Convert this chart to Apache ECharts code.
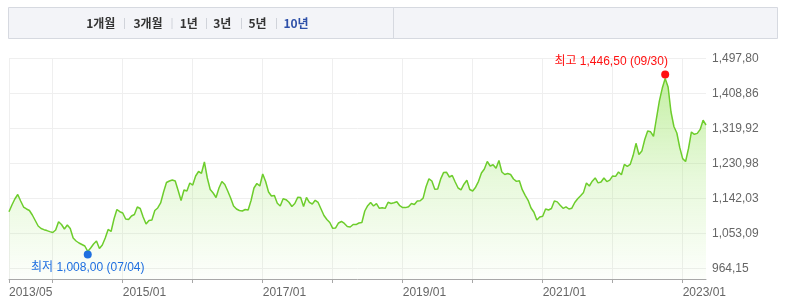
<!DOCTYPE html>
<html><head><meta charset="utf-8">
<script src="https://cdn.jsdelivr.net/npm/echarts@6.0.0/dist/echarts.min.js"></script>
<style>html,body{margin:0;padding:0;background:#fff}#c{width:786px;height:306px}</style>
</head><body><div id="c"></div>
<script>
// ---------- data ----------
const tabs = ['1개월', '3개월', '1년', '3년', '5년', '10년'];
const activeTab = '10년';
const yTickLabels = ['964,15', '1,053,09', '1,142,03', '1,230,98', '1,319,92', '1,408,86', '1,497,80'];
const yTickMin = 964.15;
const yTickMax = 1497.80;
const yAxisFloor = 938.0;
const highPoint = { date: '2022/10/01', value: 1446.50, label: '최고 1,446,50 (09/30)' };
const lowPoint = { date: '2014/07/01', value: 1008.00, label: '최저 1,008,00 (07/04)' };
// semi-monthly closing values, 2013/05/16 .. 2023/05/01
const values = [
  1108.7, 1125.7, 1140.9, 1152.3, 1135.9, 1120.6, 1115.6, 1111.8, 1100.3, 1086.4,
  1072.4, 1066.1, 1063.1, 1060.8, 1058.2, 1056.0, 1062.3, 1083.4, 1076.3, 1064.8,
  1075.0, 1066.1, 1042.0, 1034.4, 1029.3, 1025.5, 1021.7, 1008.0, 1016.6, 1026.8,
  1034.4, 1015.4, 1024.3, 1042.0, 1063.6, 1058.5, 1090.2, 1114.3, 1108.7, 1105.4,
  1090.2, 1088.9, 1097.8, 1101.6, 1120.6, 1116.8, 1095.3, 1077.5, 1086.4, 1087.7,
  1111.8, 1118.1, 1130.8, 1158.7, 1182.8, 1186.6, 1189.1, 1186.6, 1162.5, 1137.1,
  1163.8, 1161.2, 1181.5, 1176.4, 1199.3, 1210.7, 1206.1, 1234.8, 1194.2, 1165.0,
  1156.1, 1144.7, 1168.8, 1185.3, 1177.7, 1161.2, 1143.5, 1123.2, 1115.6, 1111.8,
  1110.5, 1114.3, 1113.0, 1137.1, 1168.8, 1180.2, 1173.9, 1204.3, 1185.3, 1158.7,
  1148.5, 1149.8, 1130.0, 1123.2, 1141.7, 1139.2, 1132.6, 1121.9, 1129.5, 1145.2,
  1144.7, 1121.9, 1144.7, 1132.6, 1128.2, 1137.6, 1132.1, 1115.6, 1099.1, 1088.9,
  1081.3, 1066.6, 1067.4, 1080.1, 1083.9, 1078.8, 1071.2, 1069.9, 1076.3, 1076.0,
  1080.1, 1081.3, 1110.5, 1123.9, 1132.1, 1123.2, 1129.0, 1117.3, 1118.9, 1117.1,
  1132.6, 1129.5, 1131.3, 1133.8, 1123.9, 1119.1, 1119.1, 1121.4, 1129.3, 1127.0,
  1135.9, 1136.6, 1143.0, 1172.1, 1192.2, 1186.6, 1165.5, 1166.3, 1191.2, 1207.9,
  1208.9, 1196.7, 1200.5, 1184.1, 1168.8, 1164.3, 1178.5, 1188.4, 1165.0, 1161.2,
  1170.9, 1185.8, 1206.9, 1217.0, 1236.0, 1224.6, 1227.9, 1218.8, 1238.6, 1209.4,
  1203.1, 1205.4, 1203.1, 1191.7, 1185.6, 1187.3, 1164.5, 1150.3, 1137.6, 1118.1,
  1107.2, 1087.7, 1095.3, 1097.3, 1115.6, 1113.0, 1116.8, 1135.9, 1133.6, 1125.0,
  1117.3, 1121.1, 1115.6, 1117.6, 1132.1, 1141.7, 1149.3, 1157.7, 1181.5, 1173.9,
  1186.1, 1194.4, 1181.8, 1184.1, 1194.2, 1185.1, 1188.9, 1199.5, 1198.3, 1209.4,
  1202.6, 1228.7, 1223.4, 1228.7, 1251.0, 1282.2, 1253.8, 1262.4, 1291.8, 1313.4,
  1311.4, 1300.0, 1345.1, 1389.0, 1421.7, 1446.5, 1425.0, 1361.6, 1324.8, 1308.3,
  1271.6, 1243.4, 1236.0, 1269.0, 1310.9, 1305.0, 1307.3, 1317.4, 1340.8, 1328.6
];
// category dates (1st and 16th of each month)
const dates = ['2013/05/16'];
for (let y = 2013, m = 6; dates.length < values.length; ) {
  const mm = String(m).padStart(2, '0');
  dates.push(y + '/' + mm + '/01');
  if (dates.length < values.length) dates.push(y + '/' + mm + '/16');
  m++; if (m > 12) { m = 1; y++; }
}
const labelYears = ['2015', '2017', '2019', '2021', '2023'];

// ---------- chart ----------
const FONT = "'Liberation Sans', 'Noto Sans CJK KR', sans-serif";
const isYearStart = (v) => v.endsWith('/01/01');
const yInterval = (yTickMax - yTickMin) / (yTickLabels.length - 1);

const tabX = [100.75, 148, 188.75, 222.25, 257.5, 296];
const sepX = [124, 171.5, 206, 241, 276];
const graphics = [
  { type: 'rect', shape: { x: 8.5, y: 7.5, width: 769, height: 31 }, style: { fill: '#f3f4f8', stroke: '#d6d9e0', lineWidth: 1 }, z: 0 },
  { type: 'line', shape: { x1: 393.5, y1: 8, x2: 393.5, y2: 38 }, style: { stroke: '#d6d9e0', lineWidth: 1 }, z: 1 }
];
tabs.forEach((t, i) => {
  graphics.push({ type: 'text', x: tabX[i], y: 23, z: 2,
    style: { text: t, fill: t === activeTab ? '#2d4fa8' : '#333', font: "bold 12px 'Noto Sans CJK KR', sans-serif", textAlign: 'center', textVerticalAlign: 'middle' } });
});
sepX.forEach(x => graphics.push({ type: 'line', z: 2, shape: { x1: x + 0.5, y1: 18, x2: x + 0.5, y2: 29 }, style: { stroke: '#d0d3da', lineWidth: 1 } }));

const chart = echarts.init(document.getElementById('c'), null, { renderer: 'canvas' });
chart.setOption({
  animation: false,
  graphic: graphics,
  grid: [
    { left: 9, right: 80, top: 58.3, bottom: 27 },
    { left: 9, right: 80, top: 58.3, bottom: 37.3 }
  ],
  xAxis: [
    { type: 'category', gridIndex: 0, data: dates, boundaryGap: false,
      axisLine: { lineStyle: { color: '#a8a8a8', width: 1 } },
      axisTick: { show: true, length: 4, interval: (i, v) => i === 0 || isYearStart(v), lineStyle: { color: '#a8a8a8' } },
      splitLine: { show: true, interval: (i, v) => i === 0 || isYearStart(v), lineStyle: { color: '#efefef', width: 1 } },
      axisLabel: { interval: (i, v) => i === 0 || (isYearStart(v) && labelYears.includes(v.slice(0, 4))),
        formatter: v => v.slice(0, 7), align: 'left', color: '#666', fontSize: 12, fontFamily: FONT, margin: 8 } },
    { type: 'value', gridIndex: 1, show: false, min: 0, max: 1 }
  ],
  yAxis: [
    { type: 'value', gridIndex: 0, show: false, min: yAxisFloor, max: yTickMax, splitLine: { show: false } },
    { type: 'value', gridIndex: 1, position: 'right', min: yTickMin, max: yTickMax, interval: yInterval,
      axisLine: { show: false }, axisTick: { show: false },
      axisLabel: { margin: 6, color: '#666', fontSize: 12, fontFamily: FONT, showMinLabel: true, showMaxLabel: true,
        formatter: v => yTickLabels[Math.round((v - yTickMin) / yInterval)] },
      splitLine: { lineStyle: { color: '#efefef', width: 1 } } }
  ],
  series: [{
    type: 'line', xAxisIndex: 0, yAxisIndex: 0, data: values, showSymbol: false, symbol: 'none',
    lineStyle: { color: '#6dcd2c', width: 1.5 },
    areaStyle: { color: new echarts.graphic.LinearGradient(0, 0, 0, 1, [
      { offset: 0, color: 'rgba(148,226,88,0.78)' },
      { offset: 0.5, color: 'rgba(160,230,110,0.35)' },
      { offset: 1, color: 'rgba(160,230,110,0.04)' }
    ]) },
    markPoint: {
      symbol: 'circle', symbolSize: 8, animation: false,
      data: [
        { name: 'high', coord: [dates.indexOf(highPoint.date), highPoint.value], symbolOffset: [0, -4],
          itemStyle: { color: '#ff1111' },
          label: { show: true, position: 'top', distance: 3, offset: [-54, 0], color: '#ff1111', fontSize: 12, fontFamily: FONT, formatter: highPoint.label } },
        { name: 'low', coord: [dates.indexOf(lowPoint.date), lowPoint.value], symbolOffset: [0, 3],
          itemStyle: { color: '#1f6fe0' },
          label: { show: true, position: 'bottom', distance: 3, color: '#1f6fe0', fontSize: 12, fontFamily: FONT, formatter: lowPoint.label } }
      ]
    }
  }]
});
</script></body></html>
